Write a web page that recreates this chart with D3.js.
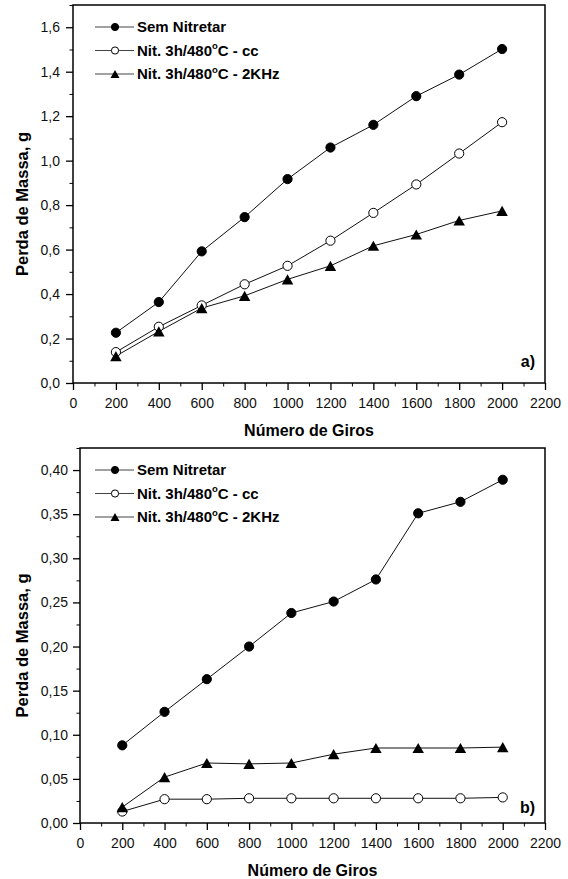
<!DOCTYPE html>
<html>
<head>
<meta charset="utf-8">
<script src="https://cdn.jsdelivr.net/npm/d3@7"></script>
<style>
  body { margin: 0; background: #fff; }
  svg { display: block; font-family: "Liberation Sans", Arial, sans-serif; }
  .tick text { font-size: 14px; fill: #111; }
</style>
</head>
<body>
<svg width="568" height="879"></svg>
<script>
// Data
const giros = [200, 400, 600, 800, 1000, 1200, 1400, 1600, 1800, 2000];

// panel a)
const semNitA = [0.226, 0.364, 0.592, 0.746, 0.917, 1.059, 1.161, 1.290, 1.387, 1.502];
const ccA     = [0.139, 0.253, 0.349, 0.444, 0.527, 0.640, 0.765, 0.893, 1.032, 1.173];
const khzA    = [0.121, 0.232, 0.337, 0.392, 0.466, 0.527, 0.617, 0.668, 0.731, 0.774];

// panel b)
const semNitB = [0.088, 0.126, 0.163, 0.200, 0.238, 0.251, 0.276, 0.351, 0.364, 0.389];
const ccB     = [0.013, 0.027, 0.027, 0.028, 0.028, 0.028, 0.028, 0.028, 0.028, 0.029];
const khzB    = [0.018, 0.052, 0.068, 0.067, 0.068, 0.078, 0.085, 0.085, 0.085, 0.086];

const seriesNames = ["Sem Nitretar", "Nit. 3h/480|C - cc", "Nit. 3h/480|C - 2KHz"];
const seriesSymbols = ["filled", "open", "triangle"];

const xTicks = d3.range(0, 2201, 200);
const xMinor = d3.range(100, 2200, 200);

const svg = d3.select("svg");

function comma(fmt) {
  const f = d3.format(fmt);
  return d => f(d).replace(".", ",");
}

function marker(g, type, x, y, r) {
  if (type === "triangle") {
    const h = r * 2.2, w = r * 2.5;
    g.append("path")
      .attr("d", `M${x},${y - h / 2}L${x + w / 2},${y + h / 2}L${x - w / 2},${y + h / 2}Z`)
      .attr("fill", "#000");
  } else {
    g.append("circle")
      .attr("cx", x).attr("cy", y).attr("r", r)
      .attr("fill", type === "filled" ? "#000" : "#fff")
      .attr("stroke", "#000")
      .attr("stroke-width", 1);
  }
}

function drawPanel(cfg) {
  const x = d3.scaleLinear().domain([0, 2200]).range([cfg.left, cfg.right]);
  const y = d3.scaleLinear().domain([0, cfg.yMax]).range([cfg.bottom, cfg.top]);
  const g = svg.append("g");

  // frame
  g.append("rect")
    .attr("x", cfg.left).attr("y", cfg.top)
    .attr("width", cfg.right - cfg.left).attr("height", cfg.bottom - cfg.top)
    .attr("fill", "none").attr("stroke", "#000").attr("stroke-width", 1.5);

  // minor ticks
  g.append("g")
    .attr("transform", `translate(0,${cfg.bottom})`)
    .call(d3.axisBottom(x).tickValues(xMinor).tickSize(3.5).tickFormat(""))
    .call(a => a.select(".domain").remove());
  g.append("g")
    .attr("transform", `translate(${cfg.left},0)`)
    .call(d3.axisLeft(y).tickValues(cfg.yMinor).tickSize(3.5).tickFormat(""))
    .call(a => a.select(".domain").remove());

  // major ticks
  g.append("g")
    .attr("transform", `translate(0,${cfg.bottom})`)
    .call(d3.axisBottom(x).tickValues(xTicks).tickSize(7).tickPadding(8).tickFormat(d3.format("d")))
    .call(a => a.select(".domain").remove())
    .call(a => a.selectAll("line").attr("stroke-width", 1.3));
  g.append("g")
    .attr("transform", `translate(${cfg.left},0)`)
    .call(d3.axisLeft(y).tickValues(cfg.yTicks).tickSize(7).tickPadding(cfg.yPad).tickFormat(comma(cfg.yFmt)))
    .call(a => a.select(".domain").remove())
    .call(a => a.selectAll("line").attr("stroke-width", 1.3));

  // axis titles
  g.append("text")
    .attr("x", (cfg.left + cfg.right) / 2)
    .attr("y", cfg.bottom + 53)
    .attr("text-anchor", "middle")
    .style("font-size", "16px").style("font-weight", "bold")
    .text("Número de Giros");
  g.append("text")
    .attr("transform", `translate(27.5,${(cfg.top + cfg.bottom) / 2 + 10}) rotate(-90)`)
    .attr("text-anchor", "middle")
    .style("font-size", "16.5px").style("font-weight", "bold")
    .text("Perda de Massa, g");

  // panel label
  g.append("text")
    .attr("x", cfg.right - 10)
    .attr("y", cfg.labelY)
    .attr("text-anchor", "end")
    .style("font-size", "16px").style("font-weight", "bold")
    .text(cfg.label);

  // series
  const line = d3.line().x((d, i) => x(giros[i])).y(d => y(d));
  cfg.series.forEach((vals, k) => {
    g.append("path")
      .datum(vals)
      .attr("fill", "none")
      .attr("stroke", "#111")
      .attr("stroke-width", 1)
      .attr("d", line);
  });
  cfg.series.forEach((vals, k) => {
    vals.forEach((v, i) => marker(g, seriesSymbols[k], x(giros[i]), y(v), 4.6));
  });

  // legend
  seriesNames.forEach((name, k) => {
    const ly = cfg.top + 22 + k * 23.5;
    const lx = cfg.legendX;
    g.append("line")
      .attr("x1", lx).attr("x2", lx + 39)
      .attr("y1", ly).attr("y2", ly)
      .attr("stroke", "#444").attr("stroke-width", 1);
    marker(g, seriesSymbols[k], lx + 20, ly, 3.6);
    const parts = name.split("|");
    const t = g.append("text")
      .attr("x", lx + 42).attr("y", ly)
      .attr("dy", "0.36em")
      .style("font-size", "15px").style("font-weight", "bold");
    t.append("tspan").text(parts[0]);
    if (parts.length > 1) {
      t.append("tspan").attr("dy", -6.5).style("font-size", "9.5px").text("o");
      t.append("tspan").attr("dy", 6.5).text(parts[1]);
    }
  });
}

drawPanel({
  left: 73, right: 545, top: 5, bottom: 383,
  yMax: 1.7,
  yTicks: d3.range(0, 1.61, 0.2),
  yMinor: d3.range(0.1, 1.71, 0.2),
  yFmt: ".1f", yPad: 6,
  series: [semNitA, ccA, khzA],
  label: "a)", labelY: 367,
  legendX: 95
});

drawPanel({
  left: 80, right: 545, top: 448, bottom: 823,
  yMax: 0.425,
  yTicks: d3.range(0, 0.401, 0.05),
  yMinor: d3.range(0.025, 0.426, 0.05),
  yFmt: ".2f", yPad: 5,
  series: [semNitB, ccB, khzB],
  label: "b)", labelY: 813,
  legendX: 95
});
</script>
</body>
</html>
